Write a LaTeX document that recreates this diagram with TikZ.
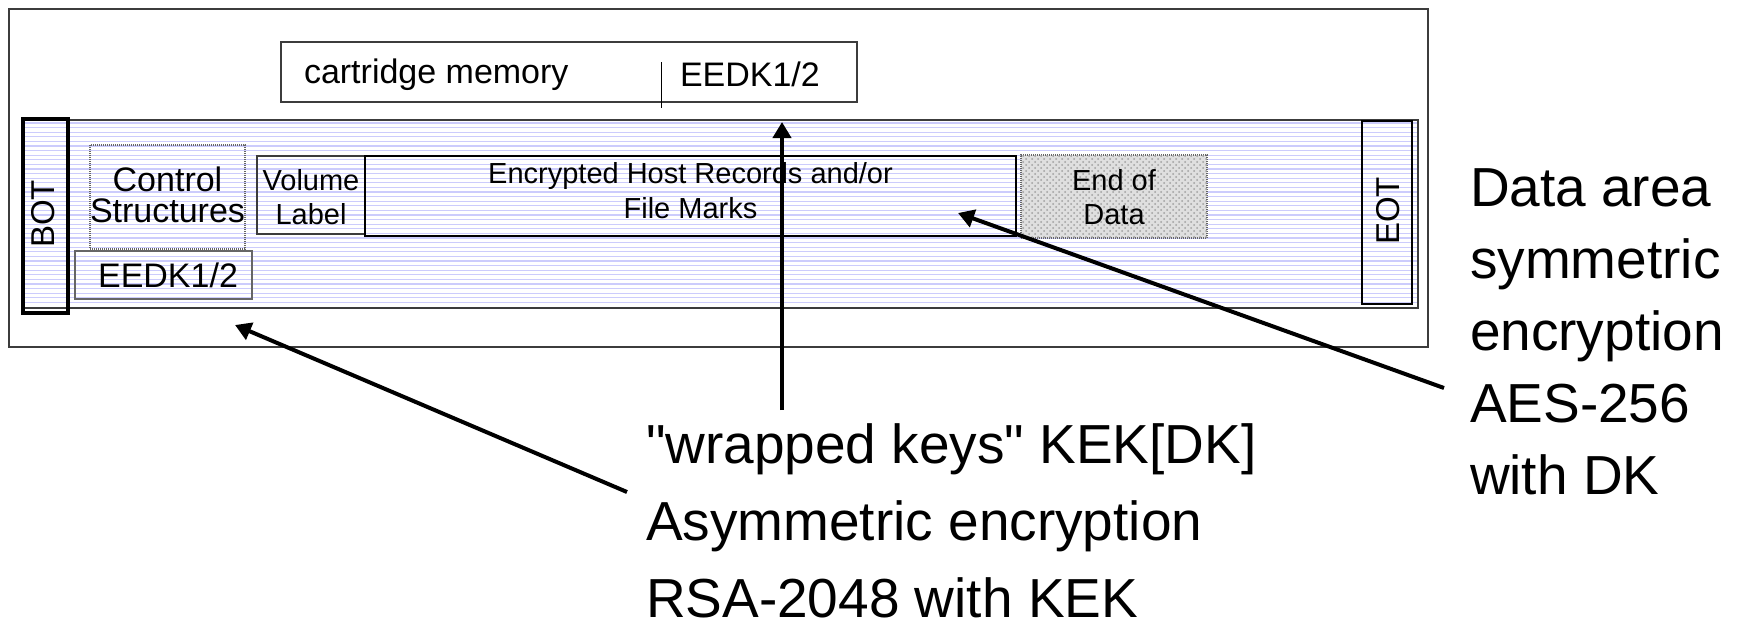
\documentclass[tikz,border=0pt]{standalone}
\usepackage{fontspec}
\setmainfont{Liberation Sans}
\usetikzlibrary{arrows.meta,patterns}
\definecolor{stripecol}{RGB}{204,204,252}
\definecolor{edgecol}{RGB}{60,60,60}
\newcommand\fs[2]{\fontsize{#1pt}{#2pt}\selectfont}
\newcommand\sq{\XeTeXglyph\XeTeXcharglyph"22\relax}
\newcommand\mycenter[1]{\vtop{\lineskiplimit=-100pt\halign{\hfil##\hfil\cr#1\crcr}}}
\newcommand\mylines[1]{\vtop{\lineskiplimit=-100pt\halign{##\hfil\cr#1\crcr}}}
\tikzset{
  txt/.style={inner sep=0pt, outer sep=0pt},
  plainbox/.style={draw=edgecol, line width=0.6pt, inner sep=0pt, outer sep=0pt},
  thickbox/.style={draw=black, line width=1.3pt, inner sep=0pt, outer sep=0pt},
  botbox/.style={draw=black, line width=2pt, inner sep=0pt, outer sep=0pt},
  dotbox/.style={draw=gray!80!black, dash pattern=on 0.5pt off 0.5pt, line width=0.55pt, inner sep=0pt, outer sep=0pt},
  eodbox/.style={draw=gray!80!black, dash pattern=on 0.5pt off 0.5pt, line width=0.55pt, inner sep=0pt, outer sep=0pt,
                 fill=gray!25, postaction={pattern=crosshatch dots, pattern color=gray!75}},
  stripe/.style={draw=stripecol, line width=0.6pt},
  arr/.style={line width=2pt, draw=black, -{Triangle[length=8pt,width=9pt]}},
}
\begin{document}
\begin{tikzpicture}[x=0.5pt,y=-0.5pt]
\useasboundingbox (0,0) rectangle (1744,621);
% outer frame
\node[plainbox, line width=0.75pt, minimum width=709.5pt, minimum height=169pt] (outer) at (718.5,178) {};
% cartridge memory
\node[plainbox, minimum width=288pt, minimum height=30pt] (cm) at (569,72) {};
\node[txt, font=\fs{17}{20}, anchor=base west] (cmtxt) at (304,83) {cartridge memory};
\node[txt, font=\fs{17}{20}, anchor=base west] (cmkey) at (680,86) {EEDK1/2};
\draw[black, line width=0.5pt] (661,62) -- (661,108);
% tape band with stripes
\foreach \i in {0,...,39} {\draw[stripe] (24,{123+4.6*\i}) -- (1417,{123+4.6*\i});}
\node[plainbox, draw=edgecol, line width=0.75pt, minimum width=697.5pt, minimum height=94pt] (band) at (720.5,214) {};
% BOT / EOT
\node[botbox, minimum width=22.5pt, minimum height=97pt] (bot) at (45.5,216) {};
\node[txt, rotate=90, font=\fs{16.5}{18}] (bottxt) at (43,214) {BOT};
\node[plainbox, draw=black, line width=0.75pt, minimum width=25pt, minimum height=91.5pt] (eot) at (1387,212.5) {};
\node[txt, rotate=90, font=\fs{16.5}{18}] (eottxt) at (1388,211) {EOT};
% control structures
\node[dotbox, minimum width=77.5pt, minimum height=52pt] (ctrl) at (167.5,197) {};
\node[txt, font=\fs{17}{15.5}, anchor=base] (ctrltxt) at (167.5,191) {\mycenter{Control\cr Structures}};
% lower EEDK
\node[plainbox, draw=gray!80!black, minimum width=88.5pt, minimum height=24pt] (eedkbox) at (163.5,275) {};
\node[txt, font=\fs{17}{20}, anchor=base] (eedktxt) at (168,287) {EEDK1/2};
% volume label
\node[plainbox, minimum width=54pt, minimum height=39pt] (vol) at (311,195) {};
\node[txt, font=\fs{14.5}{17}, anchor=base] (voltxt) at (311,190) {\mycenter{Volume\cr Label}};
% encrypted records
\node[thickbox, minimum width=325.5pt, minimum height=40pt] (enc) at (690.5,196) {};
\node[txt, font=\fs{14.5}{17.5}, anchor=base] (enctxt) at (690.5,183) {\mycenter{Encrypted Host Records and/or\cr File Marks}};
% end of data
\node[eodbox, minimum width=93pt, minimum height=41.5pt] (eod) at (1114,196.5) {};
\node[txt, font=\fs{14.5}{17}, anchor=base] (eodtxt) at (1114,190) {\mycenter{End of\cr Data}};
% explanatory texts
\node[txt, font=\fs{27.5}{36}, anchor=base west] (datatxt) at (1470,206) {\mylines{Data area\cr symmetric\cr encryption\cr AES-256\cr with DK}};
\node[txt, font=\fs{27.5}{38.5}, anchor=base west] (keytxt) at (646,463) {\mylines{\sq wrapped keys\sq{} KEK[DK]\cr Asymmetric encryption\cr RSA-2048 with KEK}};
% arrows
\coordinate (vtail) at (782,410);
\coordinate (vtip) at (782,122);
\coordinate (rtail) at (1444,388);
\coordinate (rtip) at (958,213);
\coordinate (ltail) at (627,492);
\coordinate (ltip) at (235,325);
\draw[arr] (vtail) -- (vtip);
\draw[arr] (rtail) -- (rtip);
\draw[arr] (ltail) -- (ltip);
\end{tikzpicture}
\end{document}
